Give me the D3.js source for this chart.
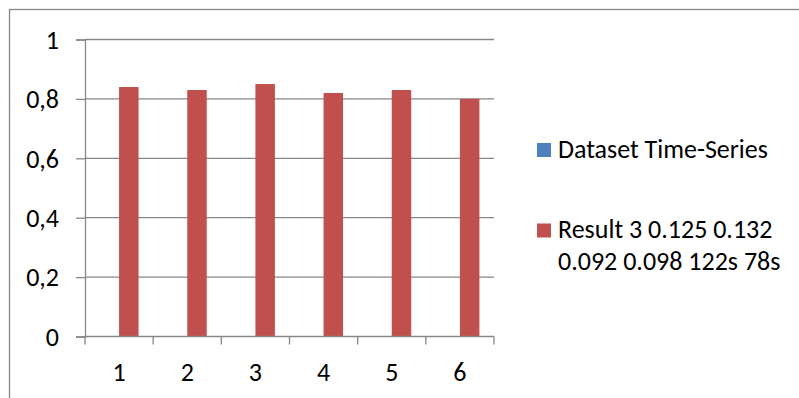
<!DOCTYPE html>
<html>
<head>
<meta charset="utf-8">
<script src="https://cdn.jsdelivr.net/npm/d3@7"></script>
<style>
  html, body { margin: 0; padding: 0; background: #fff; }
  svg { display: block; }
  text { font-family: Carlito, Lato, "Liberation Sans", sans-serif; fill: #000; }
</style>
</head>
<body>
<svg id="chart" width="799" height="398"></svg>
<script>
// Category labels along the x axis
const categories = ["1", "2", "3", "4", "5", "6"];
// Series names (legend entries)
const seriesNames = ["Dataset Time-Series", "Result 3 0.125 0.132 0.092 0.098 122s 78s"];
// Series values per category (first series has no values)
const datasetValues = [null, null, null, null, null, null];
const resultValues = [0.84, 0.83, 0.85, 0.82, 0.83, 0.80];
// Y axis ticks
const yTicks = [0, 0.2, 0.4, 0.6, 0.8, 1];
const seriesColors = ["#4F81BD", "#C0504D"];

const svg = d3.select("#chart");
const axisColor = "#878787";
const fontSize = 26;

// Chart frame (extends past the right and bottom edges)
svg.append("rect")
  .attr("x", 9.5).attr("y", 9.5)
  .attr("width", 820).attr("height", 420)
  .attr("fill", "none").attr("stroke", axisColor).attr("stroke-width", 1.3);

const plot = { left: 85, right: 494, top: 39.5, bottom: 336.5 };

const x = d3.scaleBand().domain(categories).range([plot.left, plot.right]).padding(0);
const xs = d3.scaleBand().domain(seriesNames).range([0, x.bandwidth()])
  .paddingInner(0).paddingOuter(0.75);
const y = d3.scaleLinear().domain([0, 1]).range([plot.bottom, plot.top]);

const fmt = v => d3.format(".1~f")(v).replace(".", ",");

// Horizontal gridlines
svg.append("g").selectAll("line").data(yTicks.filter(t => t > 0)).join("line")
  .attr("x1", plot.left).attr("x2", plot.right)
  .attr("y1", d => y(d)).attr("y2", d => y(d))
  .attr("stroke", axisColor).attr("stroke-width", 1.3);

// Y axis
const yAxis = svg.append("g").attr("transform", `translate(${plot.left},0)`)
  .call(d3.axisLeft(y).tickValues(yTicks).tickFormat(fmt).tickSize(9).tickPadding(17));
yAxis.select(".domain").attr("stroke", axisColor).attr("stroke-width", 1.3);
yAxis.selectAll(".tick line").attr("stroke", axisColor).attr("stroke-width", 1.3);
yAxis.selectAll(".tick text").attr("font-size", fontSize).attr("fill", "#000")
  .attr("dy", "0.34em")
  .style("font-family", "Carlito, Lato, sans-serif");

// Bars
const rows = categories.map((c, i) => ({ c, vals: [datasetValues[i], resultValues[i]] }));
const groups = svg.append("g").selectAll("g").data(rows).join("g")
  .attr("transform", d => `translate(${x(d.c)},0)`);
groups.selectAll("rect")
  .data(d => d.vals.map((v, k) => ({ v, k })).filter(e => e.v != null))
  .join("rect")
  .attr("x", e => xs(seriesNames[e.k]))
  .attr("width", xs.bandwidth())
  .attr("y", e => y(e.v))
  .attr("height", e => y(0) - y(e.v))
  .attr("fill", e => seriesColors[e.k]);

// X axis with ticks between categories
const xAxisG = svg.append("g").attr("transform", `translate(0,${plot.bottom})`);
xAxisG.append("line").attr("x1", plot.left).attr("x2", plot.right)
  .attr("stroke", axisColor).attr("stroke-width", 1.3);
const boundaries = categories.map(c => x(c)).concat([plot.right]);
xAxisG.selectAll("line.tk").data(boundaries).join("line").attr("class", "tk")
  .attr("x1", d => d).attr("x2", d => d).attr("y1", 0).attr("y2", 8)
  .attr("stroke", axisColor).attr("stroke-width", 1.3);
xAxisG.selectAll("text").data(categories).join("text")
  .attr("x", d => x(d) + x.bandwidth() / 2).attr("y", 44)
  .attr("text-anchor", "middle").attr("font-size", fontSize).text(d => d);

// Legend: swatch centred on each entry's first line, wrapped name below
const legend = svg.append("g");
const legendItems = [
  { lines: ["Dataset Time-Series"], cy: 150, color: seriesColors[0] },
  { lines: ["Result 3 0.125 0.132", "0.092 0.098 122s 78s"], cy: 230.5, color: seriesColors[1] }
];
legendItems.forEach(it => {
  legend.append("rect").attr("x", 537).attr("y", it.cy - 7).attr("width", 14).attr("height", 14)
    .attr("fill", it.color);
  const t = legend.append("text").attr("x", 558).attr("y", it.cy + 7.5).attr("font-size", fontSize);
  it.lines.forEach((ln, i) => {
    t.append("tspan").attr("x", 558).attr("dy", i === 0 ? 0 : 32).text(ln);
  });
});
</script>
</body>
</html>
